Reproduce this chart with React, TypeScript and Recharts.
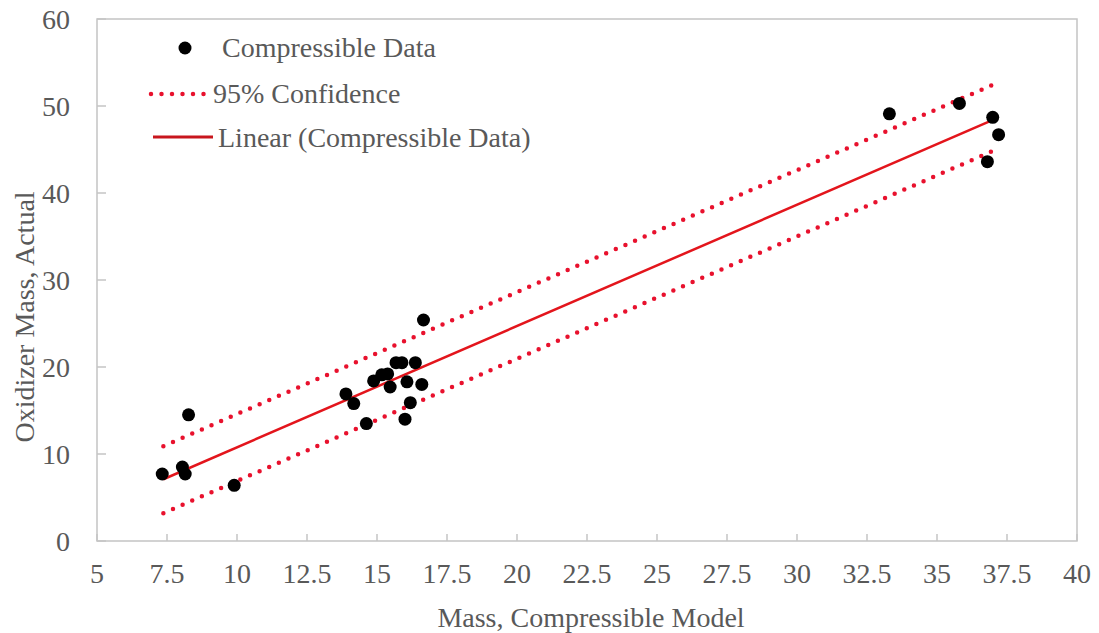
import { ScatterChart, Scatter, XAxis, YAxis, ReferenceArea, Legend, Label } from 'recharts';

// measured points: model mass vs actual oxidizer mass
const massModel = [
  7.33, 8.05, 8.15, 8.27, 9.9, 13.89, 14.17, 14.62, 14.88, 15.17, 15.38, 15.47, 15.68,
  15.89, 16.37, 16.07, 16.6, 16.19, 16.0, 16.66, 33.3, 35.8, 36.99, 37.2, 36.8,
];
const massActual = [
  7.7, 8.5, 7.7, 14.5, 6.4, 16.9, 15.8, 13.5, 18.4, 19.1, 19.2, 17.7, 20.5,
  20.5, 20.5, 18.3, 18.0, 15.9, 14.0, 25.4, 49.1, 50.3, 48.7, 46.7, 43.6,
];

// linear fit and 95% band, end points only
const fitX = [7.37, 37.0];
const fitY = [7.1, 48.4];
const bandX = [7.37, 37.04];
const upperY = [10.9, 52.5];
const lowerY = [3.2, 44.9];

const xTicks = [5, 7.5, 10, 12.5, 15, 17.5, 20, 22.5, 25, 27.5, 30, 32.5, 35, 37.5, 40];
const yTicks = [0, 10, 20, 30, 40, 50, 60];

const pts = massModel.map((x, i) => ({ x, y: massActual[i] }));
const fit = fitX.map((x, i) => ({ x, y: fitY[i] }));
const upper = bandX.map((x, i) => ({ x, y: upperY[i] }));
const lower = bandX.map((x, i) => ({ x, y: lowerY[i] }));

const FONT = "'Liberation Serif', 'Times New Roman', serif";
const TEXT = '#595959';
const FRAME = '#c4c4c4';
const FIT_RED = '#e3151c';
const BAND_RED = '#e8112d';
const X_GAP = 22;
const Y_GAP = 27;

const dotted = { stroke: BAND_RED, strokeWidth: 4.5, strokeDasharray: '0 10.5', strokeLinecap: 'round' as const };
const txtStyle = { fill: TEXT, fontSize: 28, fontFamily: FONT };

function XTick(props: any) {
  const { x, y, payload } = props;
  return (
    <g>
      <line x1={x} x2={x} y1={y - X_GAP} y2={y - X_GAP - 7} stroke={FRAME} strokeWidth={1.5} />
      <text x={x} y={y} dy="0.71em" textAnchor="middle" style={txtStyle}>
        {payload.value}
      </text>
    </g>
  );
}

function YTick(props: any) {
  const { x, y, payload } = props;
  return (
    <g>
      <line x1={x + Y_GAP} x2={x + Y_GAP + 9} y1={y} y2={y} stroke={FRAME} strokeWidth={1.5} />
      <text x={x} y={y} dy="0.355em" textAnchor="end" style={txtStyle}>
        {payload.value}
      </text>
    </g>
  );
}

function LegendBox() {
  return (
    <svg width={600} height={170} style={{ display: 'block', fontFamily: FONT }}>
      <circle cx={185} cy={48} r={6.5} fill="#000" />
      <text x={222} y={57} style={txtStyle}>Compressible Data</text>
      <line x1={151} x2={210} y1={94} y2={94} {...dotted} />
      <text x={213} y={103} style={txtStyle}>95% Confidence</text>
      <line x1={153} x2={213} y1={137} y2={137} stroke="#c8161d" strokeWidth={3} />
      <text x={218} y={147} style={txtStyle}>Linear (Compressible Data)</text>
    </svg>
  );
}

export default function App() {
  return (
    <div style={{ position: 'absolute', left: 0, top: 0, background: '#fff', fontFamily: FONT }}>
      <ScatterChart width={1099} height={633} margin={{ top: 19, right: 22, bottom: 0, left: 0 }}>
        <ReferenceArea x1={5} x2={40} y1={0} y2={60} fill="none" stroke={FRAME} strokeWidth={1.5} />
        <XAxis
          type="number"
          dataKey="x"
          domain={[5, 40]}
          ticks={xTicks}
          height={92}
          axisLine={false}
          tickLine={false}
          tickSize={0}
          tickMargin={X_GAP}
          tick={<XTick />}
          interval={0}
        >
          <Label
            content={(p: any) => {
              const vb = p.viewBox;
              return (
                <text x={vb.x + vb.width / 2 + 4} y={vb.y + 86} textAnchor="middle" style={txtStyle}>
                  Mass, Compressible Model
                </text>
              );
            }}
          />
        </XAxis>
        <YAxis
          type="number"
          dataKey="y"
          domain={[0, 60]}
          ticks={yTicks}
          width={97}
          axisLine={false}
          tickLine={false}
          tickSize={0}
          tickMargin={Y_GAP}
          tick={<YTick />}
          interval={0}
        >
          <Label
            content={() => (
              <text
                x={24}
                y={317}
                transform="rotate(-90 24 317)"
                textAnchor="middle"
                dominantBaseline="central"
                style={txtStyle}
              >
                Oxidizer Mass, Actual
              </text>
            )}
          />
        </YAxis>
        <Legend
          layout="horizontal"
          verticalAlign="middle"
          align="center"
          wrapperStyle={{ top: 0, left: 0, width: 600, height: 170 }}
          content={() => <LegendBox />}
        />
        <Scatter data={upper} line={dotted} lineType="joint" shape={() => null} isAnimationActive={false} />
        <Scatter data={lower} line={dotted} lineType="joint" shape={() => null} isAnimationActive={false} />
        <Scatter
          data={fit}
          line={{ stroke: FIT_RED, strokeWidth: 2.5 }}
          lineType="joint"
          shape={() => null}
          isAnimationActive={false}
        />
        <Scatter
          data={pts}
          fill="#000"
          shape={(p: any) => <circle cx={p.cx} cy={p.cy} r={6.5} fill="#000" />}
          isAnimationActive={false}
        />
      </ScatterChart>
    </div>
  );
}
